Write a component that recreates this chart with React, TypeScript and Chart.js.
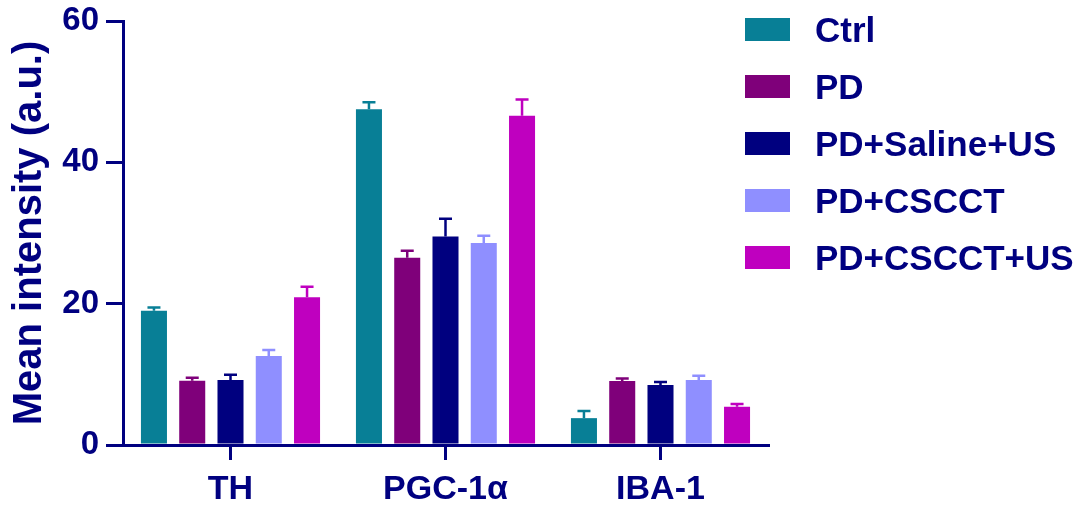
import React, { useEffect, useRef } from "react";
import { Chart, registerables } from "chart.js";

Chart.register(...registerables);

const categories = ["TH", "PGC-1α", "IBA-1"];
const seriesNames = ["Ctrl", "PD", "PD+Saline+US", "PD+CSCCT", "PD+CSCCT+US"];
const seriesColors = ["#087f96", "#7f007a", "#00007f", "#8f8fff", "#bf00bf"];

const ctrlMean = [19.0, 47.5, 3.8];
const pdMean = [9.1, 26.5, 9.05];
const salineMean = [9.2, 29.5, 8.5];
const cscctMean = [12.6, 28.6, 9.2];
const cscctUsMean = [20.9, 46.6, 5.4];

const ctrlErr = [0.45, 1.0, 1.0];
const pdErr = [0.4, 1.0, 0.35];
const salineErr = [0.75, 2.5, 0.4];
const cscctErr = [0.85, 1.0, 0.6];
const cscctUsErr = [1.5, 2.3, 0.4];

const yTicks = [0, 20, 40, 60];

const NAVY = "#000080";
const FONT = "'Liberation Sans', Arial, Helvetica, sans-serif";

const means = [ctrlMean, pdMean, salineMean, cscctMean, cscctUsMean];
const errs = [ctrlErr, pdErr, salineErr, cscctErr, cscctUsErr];

const errorBarPlugin = {
  id: "errorBars",
  afterDatasetsDraw(chart: any) {
    const ctx = chart.ctx;
    const yScale = chart.scales.y;
    chart.data.datasets.forEach((ds: any, i: number) => {
      const meta = chart.getDatasetMeta(i);
      meta.data.forEach((bar: any, j: number) => {
        const v = ds.data[j];
        const e = ds.errors[j];
        const yTop = yScale.getPixelForValue(v + e);
        const yBar = yScale.getPixelForValue(v);
        ctx.save();
        ctx.strokeStyle = ds.backgroundColor;
        ctx.lineWidth = 2.5;
        ctx.beginPath();
        ctx.moveTo(bar.x, yBar);
        ctx.lineTo(bar.x, yTop);
        ctx.moveTo(bar.x - 6.5, yTop);
        ctx.lineTo(bar.x + 6.5, yTop);
        ctx.stroke();
        ctx.restore();
      });
    });
  },
};

const legendPlugin = {
  id: "customLegend",
  afterDraw(chart: any) {
    const ctx = chart.ctx;
    ctx.save();
    chart.data.datasets.forEach((ds: any, i: number) => {
      const cy = 29.5 + i * 57;
      ctx.fillStyle = ds.backgroundColor;
      ctx.fillRect(745, cy - 11.5, 45, 23);
      ctx.fillStyle = NAVY;
      ctx.font = `bold 35px ${FONT}`;
      ctx.textBaseline = "alphabetic";
      ctx.textAlign = "left";
      ctx.fillText(ds.label, 815, cy + 12.5);
    });
    ctx.restore();
  },
};

export default function App() {
  const ref = useRef<HTMLCanvasElement | null>(null);

  useEffect(() => {
    document.body.style.margin = "0";
    if (!ref.current) return;
    const chart = new Chart(ref.current, {
      type: "bar",
      data: {
        labels: categories,
        datasets: seriesNames.map((name, i) => ({
          label: name,
          data: means[i],
          errors: errs[i],
          backgroundColor: seriesColors[i],
          borderWidth: 0,
          barPercentage: 0.68,
          categoryPercentage: 0.89,
        })) as any,
      },
      options: {
        animation: false,
        responsive: false,
        maintainAspectRatio: false,
        layout: { padding: { left: 0, right: 315, top: 21, bottom: 0 } },
        plugins: {
          legend: { display: false },
          tooltip: { enabled: false },
        },
        scales: {
          x: {
            afterFit: (s: any) => {
              s.height = 64;
              s.paddingLeft = 0;
              s.paddingRight = 0;
            },
            grid: {
              display: true,
              drawOnChartArea: false,
              drawTicks: true,
              offset: false,
              tickLength: 15,
              color: NAVY,
              lineWidth: 3,
            },
            border: { display: true, color: NAVY, width: 3 },
            ticks: {
              color: NAVY,
              padding: 9,
              font: { family: FONT, size: 34, weight: "bold" },
            },
          },
          y: {
            min: 0,
            max: 60,
            afterFit: (s: any) => {
              s.width = 123;
              s.paddingTop = 0;
              s.paddingBottom = 0;
            },
            afterBuildTicks: (s: any) => {
              s.ticks = yTicks.map((v) => ({ value: v }));
            },
            grid: {
              display: true,
              drawOnChartArea: false,
              drawTicks: true,
              tickLength: 17,
              color: NAVY,
              lineWidth: 3,
            },
            border: { display: true, color: NAVY, width: 3 },
            ticks: {
              color: NAVY,
              padding: 7,
              font: { family: FONT, size: 33, weight: "bold" },
            },
            title: {
              display: true,
              text: "Mean intensity (a.u.)",
              color: NAVY,
              padding: { top: 6, bottom: 0 },
              font: { family: FONT, size: 40, weight: "bold" },
            },
          },
        },
      } as any,
      plugins: [errorBarPlugin, legendPlugin],
    });
    return () => chart.destroy();
  }, []);

  return (
    <div style={{ width: 1083, height: 509 }}>
      <canvas ref={ref} width={1083} height={509} style={{ display: "block" }} />
    </div>
  );
}
